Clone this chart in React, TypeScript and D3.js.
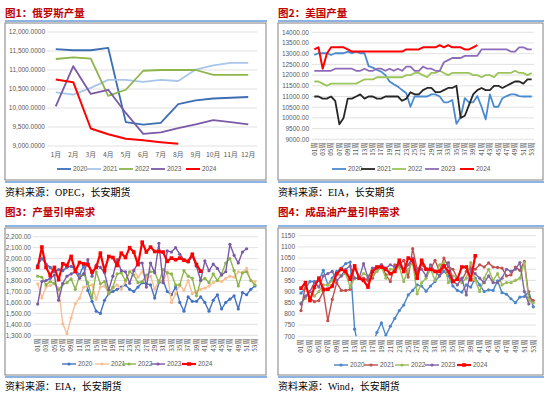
import React from "react";
import * as d3 from "d3";

// ---- data ----
const months = ["1月", "2月", "3月", "4月", "5月", "6月", "7月", "8月", "9月", "10月", "11月", "12月"];
const weekLabels = ["01周", "03周", "05周", "07周", "09周", "11周", "13周", "15周", "17周", "19周", "21周", "23周", "25周", "27周",
  "29周", "31周", "33周", "35周", "37周", "39周", "41周", "43周", "45周", "47周", "49周", "51周", "53周"];
const years = ["2020", "2021", "2022", "2023", "2024"];

// fig 1: russia output
const ru2020 = [11550, 11520, 11520, 11580, 9630, 9560, 9610, 10100, 10200, 10250, 10270, 10290];
const ru2021 = [10410, 10350, 10530, 10740, 10740, 10690, 10740, 10710, 11010, 11120, 11190, 11190];
const ru2022 = [11290, 11330, 11300, 10320, 10480, 10980, 11000, 11000, 11000, 10870, 10870, 10870];
const ru2023 = [10040, 11100, 10370, 10480, 9870, 9320, 9360, 9470, 9570, 9680, 9630, 9570];
const ru2024 = [10750, 10680, 9460, 9310, 9190, 9150, 9100, 9060];
const ruTicks = [9000, 9500, 10000, 10500, 11000, 11500, 12000];

// fig 2: us output (weekly)
const us2020 = [12940, 13020, 13020, 13020, 12940, 13020, 13020, 13020, 13100, 13020, 13100, 13020, 13020, 12420, 12350, 12240,
  12160, 12000, 11700, 11570, 11460, 11300, 11150, 10520, 11000, 11000, 11000, 11000, 11100, 11100, 11000, 10730, 10730, 10840,
  9720, 10030, 10920, 10730, 10730, 11020, 10520, 9930, 11100, 10520, 10520, 10920, 11020, 11100, 11100, 11020, 11000, 11000, 11000];
const us2021 = [11000, 11000, 10900, 10900, 11000, 10800, 9700, 10000, 10900, 10900, 11000, 11100, 10900, 11000, 11000, 10900,
  10900, 11000, 11000, 11000, 11000, 10800, 10900, 11200, 11100, 11100, 11300, 11400, 11400, 11200, 11200, 11300, 11400, 11400,
  11500, 10000, 10100, 10600, 11100, 11300, 11400, 11300, 11300, 11500, 11500, 11400, 11500, 11600, 11700, 11700, 11600, 11800, 11800];
const us2022 = [11700, 11700, 11600, 11500, 11600, 11600, 11600, 11600, 11600, 11600, 11600, 11700, 11800, 11800, 11800, 11900,
  11900, 11900, 11900, 11900, 11900, 11900, 12000, 12000, 12100, 12100, 12000, 11900, 12100, 12100, 12200, 12100, 12000, 12100,
  12100, 12100, 12100, 12100, 12000, 12000, 11900, 12000, 12000, 11900, 12100, 12100, 12100, 12100, 12200, 12100, 12100, 12000, 12100];
const us2023 = [12200, 12200, 12200, 12200, 12200, 12300, 12300, 12300, 12300, 12300, 12200, 12200, 12300, 12200, 12200, 12300,
  12300, 12200, 12300, 12200, 12300, 12200, 12400, 12400, 12200, 12200, 12400, 12300, 12300, 12200, 12200, 12600, 12700, 12800,
  12800, 12800, 12900, 12900, 12900, 12900, 13200, 13200, 13200, 13200, 13200, 13200, 13200, 13100, 13100, 13300, 13300, 13200, 13200];
const us2024 = [13200, 13300, 12300, 13000, 13300, 13300, 13300, 13300, 13200, 13100, 13100, 13100, 13100, 13100, 13100, 13100,
  13100, 13100, 13100, 13100, 13100, 13100, 13200, 13200, 13200, 13200, 13300, 13300, 13300, 13300, 13400, 13300, 13400, 13300,
  13300, 13300, 13200, 13200, 13300, 13400];
const usTicks = [9000, 9500, 10000, 10500, 11000, 11500, 12000, 12500, 13000, 13500, 14000];

// fig 3: implied demand
const dm2020 = [1940, 2000, 1950, 1920, 1880, 1900, 1890, 1920, 1930, 1900, 1850, 1940, 1710, 1610, 1520, 1500, 1620, 1680, 1700,
  1720, 1740, 1760, 1720, 1700, 1740, 1780, 1770, 1760, 1640, 1780, 1800, 1700, 1670, 1740, 1600, 1520, 1650, 1610, 1610, 1650,
  1600, 1520, 1620, 1670, 1540, 1600, 1630, 1660, 1540, 1690, 1670, 1720, 1750];
const dm2021 = [1770, 1640, 1740, 1755, 1770, 1730, 1405, 1315, 1460, 1590, 1640, 1740, 1750, 1760, 1630, 1740, 1750, 1690, 1730,
  1760, 1720, 1790, 1880, 1900, 1830, 1880, 1820, 1840, 1720, 1800, 1790, 1880, 1600, 1680, 1760, 1710, 1800, 1680, 1700, 1720,
  1730, 1750, 1780, 1800, 1790, 1820, 1840, 1830, 1880, 1870, 1910, 1800, 1790];
const dm2022 = [1840, 1830, 1760, 1790, 1775, 1715, 1765, 1780, 1815, 1720, 1840, 1860, 1780, 1640, 1880, 1770, 1790, 1680, 1740,
  1860, 1870, 1800, 1880, 1850, 1780, 1790, 1850, 1880, 1880, 1780, 1900, 1870, 1860, 1760, 1760, 1890, 1840, 1820, 1660, 1800,
  1820, 1780, 1860, 1800, 1860, 1960, 2000, 1890, 1750, 1870, 1880, 1800, 1760];
const dm2023 = [1585, 1790, 1800, 1820, 1850, 1620, 1775, 1840, 1860, 1880, 1820, 1860, 1990, 1840, 1940, 1920, 1870, 1715, 1840,
  1990, 1890, 1880, 1775, 1890, 1960, 1960, 1740, 1960, 1870, 2140, 1780, 2070, 2060, 2100, 2040, 1990, 1970, 2020, 1930, 1800,
  1980, 1890, 1950, 1910, 1850, 1880, 2130, 2030, 1960, 2060, 2090, 2090, 2090].slice(0, 51);
const dm2024 = [1920, 2106, 1920, 1845, 1920, 1807, 1953, 1937, 2020, 1883, 1965, 1953, 1945, 1877, 1920, 2050, 1890, 2020, 2010,
  1937, 2050, 2010, 2100, 2060, 1945, 2150, 2060, 2105, 2065, 2065, 2060, 1975, 2005, 1990, 2005, 1985, 1975, 2040, 1945, 1885];
const dmTicks = [1300, 1400, 1500, 1600, 1700, 1800, 1900, 2000, 2100, 2200];

// fig 4: product implied demand
const pd2020 = [893, 915, 945, 945, 950, 995, 930, 960, 990, 1005, 1025, 1032, 732, 640, 620, 630, 660, 718, 760, 703, 745, 780,
  815, 840, 885, 905, 930, 925, 902, 925, 945, 970, 990, 970, 925, 905, 898, 930, 920, 960, 930, 900, 908, 905, 948, 895, 888,
  868, 850, 875, 878, 900, 832];
const pd2021 = [815, 930, 870, 855, 860, 900, 770, 865, 940, 905, 905, 910, 1012, 960, 960, 950, 960, 1000, 1020, 975, 945, 1020,
  1020, 1040, 965, 1092, 1000, 1020, 1000, 1000, 1040, 990, 1050, 1010, 1000, 960, 950, 990, 1010, 1000, 1020, 1010, 1028, 1010,
  1008, 1005, 970, 975, 1010, 995, 1035, 875, 860];
const pd2022 = [850, 870, 900, 880, 900, 930, 930, 950, 980, 970, 980, 920, 960, 960, 980, 970, 970, 990, 1010, 960, 1000, 1000,
  1010, 945, 1000, 1030, 890, 940, 960, 1000, 950, 1020, 1030, 940, 970, 960, 940, 960, 1030, 950, 900, 960, 1000, 950, 980, 930,
  940, 940, 950, 960, 1030, 860, 850];
const pd2023 = [845, 880, 900, 940, 920, 970, 980, 990, 950, 970, 1000, 1015, 960, 960, 1025, 960, 1005, 1010, 1020, 1005, 1020,
  1010, 1020, 990, 1020, 1050, 990, 1000, 970, 1020, 990, 970, 1010, 1030, 950, 930, 960, 885, 1000, 980, 960, 940, 970, 940,
  940, 960, 1000, 990, 1000, 1030, 900, 845];
const pd2024 = [915, 940, 860, 920, 960, 910, 910, 925, 980, 1000, 990, 955, 1015, 960, 950, 920, 990, 1010, 1010, 1000, 980, 990,
  1040, 990, 1050, 1040, 960, 1040, 1000, 1000, 990, 990, 1015, 990, 945, 955, 1010, 1010, 953, 1060];
const pdTicks = [700, 750, 800, 850, 900, 950, 1000, 1050, 1100, 1150];

// ---- drawing ----
const axisFont = "'Liberation Sans', Arial, sans-serif";
const cjkFont = "'Noto Sans CJK SC', sans-serif";
const gray = "#595959";

type Series = { name: string; values: number[]; color: string; width: number; marker?: "circle" | "square" };

type PanelProps = {
  id: string;
  title: string;
  source: string;
  fx: number; fy: number; fw: number; fh: number;
  gx0: number; gx1: number;
  yTop: number; yBot: number;
  domain: [number, number];
  ticks: number[];
  tickFmt: (v: number) => string;
  labelX: number;
  weekly: boolean;
  px0?: number; px1?: number;
  labelY: number;
  legendY: number;
  legendX: number[];
  series: Series[];
  titleY: number;
  sourceY: number;
};

function Panel(p: PanelProps) {
  const y = d3.scaleLinear().domain(p.domain).range([p.yBot, p.yTop]);
  let xAt: (i: number) => number;
  let xLabels: { t: string; x: number }[];
  if (p.weekly) {
    const xs = d3.scaleLinear().domain([1, 53]).range([p.px0!, p.px1!]);
    xAt = (i) => xs(i + 1);
    xLabels = weekLabels.map((t, k) => ({ t, x: xs(k * 2 + 1) }));
  } else {
    const xs = d3.scalePoint<string>().domain(months).range([p.gx0, p.gx1]).padding(0.5);
    xAt = (i) => xs(months[i])!;
    xLabels = months.map((t) => ({ t, x: xs(t)! }));
  }
  const line = d3.line<number>().x((d, i) => xAt(i)).y((d) => y(d));
  const hasMarkers = p.series.some((s) => s.marker);
  return (
    <g>
      <text x={p.fx} y={p.titleY} fontFamily={cjkFont} fontWeight="bold" fontSize={10.5} fill="#C00000">{p.title}</text>
      <line x1={p.fx} x2={p.fx + p.fw + 1} y1={p.fy - 2} y2={p.fy - 2} stroke="#8DB3E2" strokeWidth={2.2} />
      <rect x={p.fx} y={p.fy} width={p.fw} height={p.fh} fill="#fff" stroke="#808080" strokeWidth={1} />
      <line x1={p.fx} x2={p.fx + p.fw + 1} y1={p.fy + p.fh + 2} y2={p.fy + p.fh + 2} stroke="#8DB3E2" strokeWidth={2.2} />
      <text x={p.fx} y={p.sourceY} fontFamily={"'Liberation Serif', 'Noto Sans CJK SC', serif"} fontSize={10} fill="#000">{p.source}</text>
      <defs>
        <clipPath id={"clip" + p.id}>
          <rect x={p.gx0 - 5} y={p.yTop - 5} width={p.gx1 - p.gx0 + 10} height={p.yBot - p.yTop + 5} />
        </clipPath>
      </defs>
      {p.ticks.map((t) => (
        <g key={t}>
          <line x1={p.gx0} x2={p.gx1} y1={y(t)} y2={y(t)} stroke="#D9D9D9" strokeWidth={0.8} />
          <text x={p.labelX} y={y(t) + 2.3} textAnchor="end" fontFamily={axisFont} fontSize={6.5} fill={gray}>{p.tickFmt(t)}</text>
        </g>
      ))}
      {xLabels.map((l) =>
        p.weekly ? (
          <text key={l.t} transform={`translate(${l.x + 2.3},${p.labelY}) rotate(-90)`} textAnchor="end"
            fontFamily={cjkFont} fontSize={6.3} fill={gray}>{l.t}</text>
        ) : (
          <text key={l.t} x={l.x} y={p.labelY} textAnchor="middle" fontFamily={cjkFont} fontSize={6.8} fill={gray}>{l.t}</text>
        )
      )}
      <g clipPath={`url(#clip${p.id})`}>
        {p.series.map((s) => (
          <g key={s.name}>
            <path d={line(s.values) ?? ""} fill="none" stroke={s.color} strokeWidth={s.width} strokeLinejoin="round" />
            {s.marker === "circle" &&
              s.values.map((v, i) => <circle key={i} cx={xAt(i)} cy={y(v)} r={1.6} fill={s.color} />)}
            {s.marker === "square" &&
              s.values.map((v, i) => <rect key={i} x={xAt(i) - 1.8} y={y(v) - 1.8} width={3.6} height={3.6} fill={s.color} />)}
          </g>
        ))}
      </g>
      {p.series.map((s, k) => {
        const lx = p.legendX[k];
        return (
          <g key={"lg" + s.name}>
            <line x1={lx} x2={lx + 14} y1={p.legendY} y2={p.legendY} stroke={s.color} strokeWidth={Math.min(s.width, 2.2)} />
            {hasMarkers && s.marker === "circle" && <circle cx={lx + 7} cy={p.legendY} r={1.6} fill={s.color} />}
            {hasMarkers && s.marker === "square" && <rect x={lx + 5.2} y={p.legendY - 1.8} width={3.6} height={3.6} fill={s.color} />}
            <text x={lx + 16} y={p.legendY + 2.3} fontFamily={axisFont} fontSize={6.5} fill={gray}>{s.name}</text>
          </g>
        );
      })}
    </g>
  );
}

export default function App() {
  const f1 = d3.format(",.4f");
  const f2 = d3.format(".2f");
  const f3 = d3.format(",.2f");
  const f4 = (v: number) => String(v);
  const c1 = ["#3D6EB4", "#A9C6EA", "#8DB54A", "#7A5AA6", "#FF0000"];
  const c2 = ["#4A8BD0", "#262626", "#9BC55A", "#8E6BB8", "#FF0000"];
  const c3 = ["#4472C4", "#F8BE94", "#8DB54A", "#7A5AA6", "#FF0000"];
  const c4 = ["#4A86C8", "#C0504D", "#9BBB59", "#8064A2", "#FF0000"];
  const mk = (vals: number[][], cols: string[], w: number, wRed: number, marker?: boolean): Series[] =>
    vals.map((v, i) => ({
      name: years[i],
      values: v,
      color: cols[i],
      width: i === 4 ? wRed : w,
      marker: marker ? (i === 4 ? "square" : "circle") : undefined,
    }));
  return (
    <svg width={550} height={394} style={{ position: "absolute", left: 0, top: 0, background: "#fff" }}>
      <rect width={550} height={394} fill="#fff" />
      <Panel id="a" title="图1：俄罗斯产量" source="资料来源：OPEC，长安期货"
        fx={5} fy={23} fw={261} fh={157} gx0={47} gx1={257} yTop={32} yBot={146}
        domain={[9000, 12000]} ticks={ruTicks} tickFmt={f1} labelX={45} weekly={false} labelY={157}
        legendY={169} legendX={[57, 87, 119, 151, 186]} titleY={17} sourceY={196}
        series={mk([ru2020, ru2021, ru2022, ru2023, ru2024], c1, 1.8, 2)} />
      <Panel id="b" title="图2：美国产量" source="资料来源：EIA，长安期货"
        fx={278} fy={23} fw={265} fh={157} gx0={312} gx1={534} yTop={32.3} yBot={139.3}
        domain={[9000, 14000]} ticks={usTicks} tickFmt={f2} labelX={309} weekly={true} px0={314.3} px1={531.7} labelY={142.5}
        legendY={169} legendX={[332, 361, 392, 425, 460]} titleY={17} sourceY={196}
        series={mk([us2020, us2021, us2022, us2023, us2024], c2, 1.8, 2)} />
      <Panel id="c" title="图3：产量引申需求" source="资料来源：EIA，长安期货"
        fx={5} fy={228} fw={261} fh={147} gx0={33} gx1={258} yTop={236.7} yBot={335.3}
        domain={[1300, 2200]} ticks={dmTicks} tickFmt={f3} labelX={31} weekly={true} px0={37.7} px1={255} labelY={338.5}
        legendY={364} legendX={[62, 95, 122, 151, 182]} titleY={216} sourceY={390}
        series={mk([dm2020, dm2021, dm2022, dm2023, dm2024], c3, 1.4, 2.2, true)} />
      <Panel id="d" title="图4：成品油产量引申需求" source="资料来源：Wind，长安期货"
        fx={278} fy={228} fw={265} fh={147} gx0={298} gx1={536} yTop={235.7} yBot={336.3}
        domain={[700, 1150]} ticks={pdTicks} tickFmt={f4} labelX={295} weekly={true} px0={301} px1={533.3} labelY={339.5}
        legendY={365} legendX={[334, 364, 395, 425, 457]} titleY={216} sourceY={390}
        series={mk([pd2020, pd2021, pd2022, pd2023, pd2024], c4, 1.4, 2.2, true)} />
    </svg>
  );
}
